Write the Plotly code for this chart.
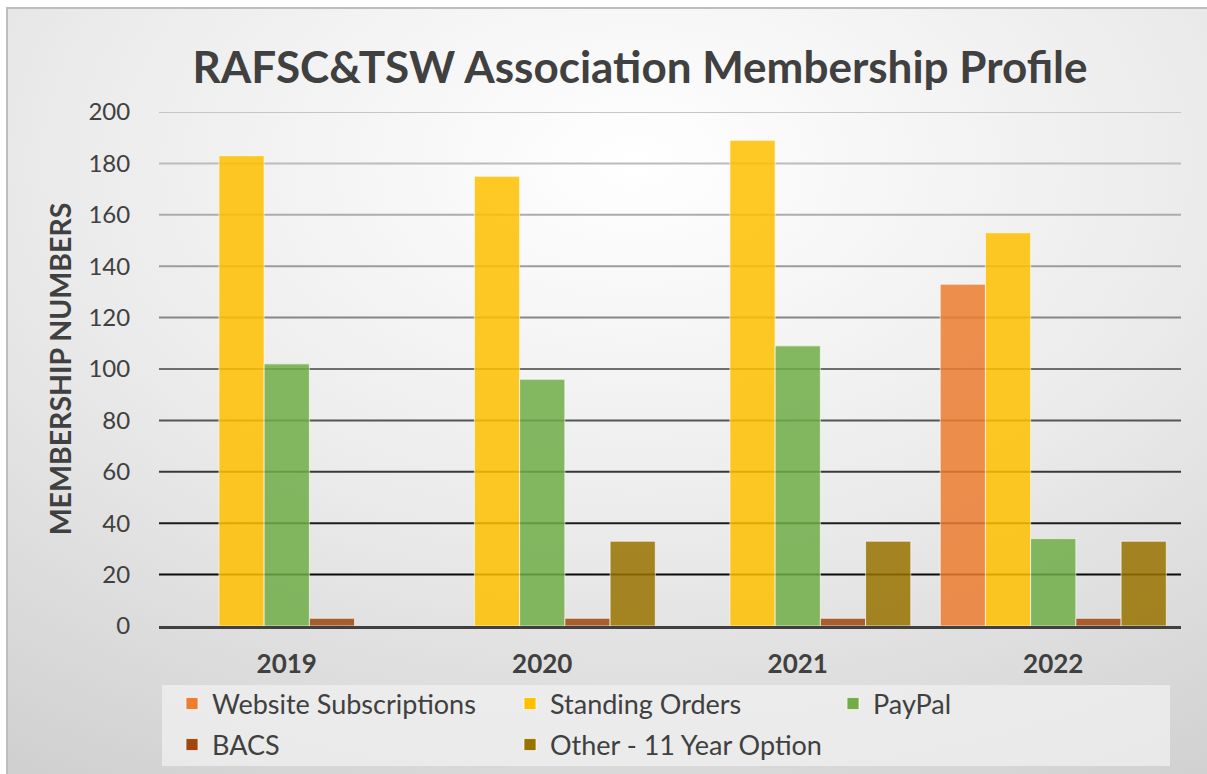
import plotly.graph_objects as go
import base64

years = ["2019", "2020", "2021", "2022"]
website = [None, None, None, 133]
standing = [183, 175, 189, 153]
paypal = [102, 96, 109, 34]
bacs = [3, 3, 3, 3]
other = [None, 33, 33, 33]

series_names = ["Website Subscriptions", "Standing Orders", "PayPal", "BACS", "Other - 11 Year Option"]
series_values = [website, standing, paypal, bacs, other]
series_colors = ["#ED7D31", "#FFC000", "#70AD47", "#9E480E", "#997300"]

y_ticks = [20, 40, 60, 80, 100, 120, 140, 160, 180, 200]
grid_colors = ["#0a0a0a", "#1c1c1c", "#383838", "#555555", "#6e6e6e",
               "#868686", "#9c9c9c", "#adadad", "#bcbcbc", "#c6c6c6"]

W, H = 1207, 774
L, R, T, B = 159, 26, 112, 148
pw, ph = W - L - R, H - T - B

# legend slot positions (text left px, row centre px) for each series
legend_pos = [(172, 704), (510, 704), (833, 704), (172, 745), (510, 745)]

svg = f'''<svg xmlns="http://www.w3.org/2000/svg" width="{W}" height="{H}">
<defs><radialGradient id="g" cx="52%" cy="20%" r="95%" fx="52%" fy="20%">
<stop offset="0" stop-color="#ffffff"/><stop offset="0.5" stop-color="#ebebeb"/>
<stop offset="1" stop-color="#cfcfcf"/></radialGradient></defs>
<rect x="7" y="8" width="{W}" height="{H}" fill="url(#g)" stroke="#bdbdbd" stroke-width="2"/>
</svg>'''
bg_uri = "data:image/svg+xml;base64," + base64.b64encode(svg.encode()).decode()

def px_to_paper_x(px):
    return (px - L) / pw

def px_to_paper_y(py):
    return (H - B - py) / ph

font_family = "Lato, 'Open Sans', sans-serif"

fig = go.Figure()
legend_layouts = {}
for i, (name, vals, col) in enumerate(zip(series_names, series_values, series_colors)):
    lg = "legend" if i == 0 else f"legend{i + 1}"
    fig.add_trace(go.Bar(
        x=years, y=vals, name=name, legend=lg, showlegend=True,
        marker=dict(color=col, opacity=0.85,
                    line=dict(color="rgba(255,255,255,0.7)", width=1)),
    ))
    lx, ly = legend_pos[i]
    legend_layouts[lg] = dict(orientation="h", x=px_to_paper_x(lx), xanchor="left",
                              y=px_to_paper_y(ly), yanchor="middle",
                              bgcolor="rgba(0,0,0,0)",
                              font=dict(size=27, color="#404040", family=font_family))

shapes = []
for v, c in zip(y_ticks, grid_colors):
    shapes.append(dict(type="line", xref="paper", yref="y", x0=0, x1=1, y0=v, y1=v,
                       line=dict(color=c, width=2), layer="below"))
shapes.append(dict(type="rect", xref="paper", yref="paper",
                   x0=px_to_paper_x(162), x1=px_to_paper_x(1170),
                   y0=px_to_paper_y(685), y1=px_to_paper_y(766),
                   fillcolor="rgba(240,240,240,0.75)", line=dict(width=0), layer="below"))

fig.update_layout(
    width=W, height=H, showlegend=True,
    margin=dict(l=L, r=R, t=T, b=B, autoexpand=False),
    paper_bgcolor="white", plot_bgcolor="rgba(0,0,0,0)",
    font=dict(family=font_family, color="#404040"),
    title=dict(text="<b>RAFSC&TSW Association Membership Profile</b>",
               x=px_to_paper_x(640), xref="paper", xanchor="center",
               y=1 - 68 / H, yanchor="middle",
               font=dict(size=44, color="#404040", family=font_family)),
    barmode="group", bargap=0.115, bargroupgap=0,
    xaxis=dict(showgrid=False, showline=True, linecolor="#404040", linewidth=3,
               tickfont=dict(size=26, color="#404040", family=font_family),
               ticks="outside", ticklen=13, tickcolor="rgba(0,0,0,0)",
               tickprefix="<b>", ticksuffix="</b>"),
    yaxis=dict(range=[0, 200], tickvals=[0] + y_ticks, showgrid=False, zeroline=False,
               tickfont=dict(size=24, color="#404040", family=font_family),
               ticks="outside", ticklen=23, tickcolor="rgba(0,0,0,0)",
               title=dict(text="<b>MEMBERSHIP NUMBERS</b>", standoff=8,
                          font=dict(size=28.5, color="#404040", family=font_family))),
    shapes=shapes,
    images=[dict(source=bg_uri, xref="paper", yref="paper",
                 x=px_to_paper_x(0), y=px_to_paper_y(0),
                 sizex=W / pw, sizey=H / ph, xanchor="left", yanchor="top",
                 sizing="stretch", layer="below")],
    **legend_layouts,
)

fig.write_html("out.html", config={"displayModeBar": False},
               post_script="document.body.style.margin='0';")
